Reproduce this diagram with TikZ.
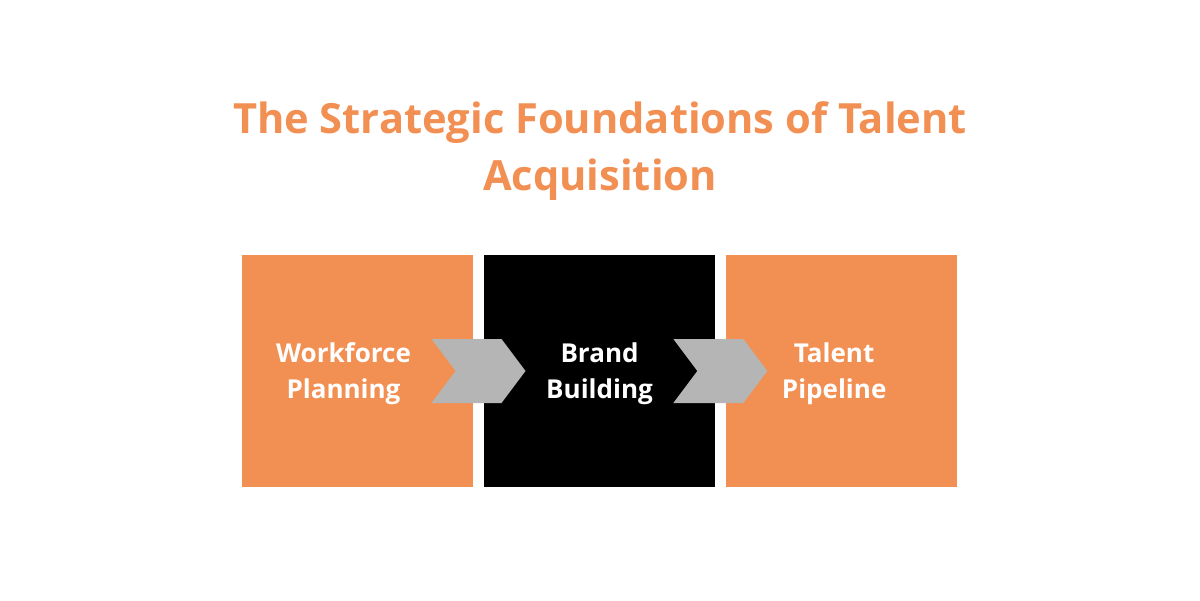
\documentclass[tikz,border=0pt]{standalone}
\usepackage{fontspec}
\setmainfont{Open Sans}
\usepackage{tikz}
\usetikzlibrary{positioning,calc}

\definecolor{brandorange}{HTML}{F28F52}
\definecolor{chevgray}{HTML}{B5B5B5}

\tikzset{
  stepbox/.style={minimum width=5.775cm, minimum height=5.8cm, inner sep=0pt, draw=none},
  steplabel/.style={text=white, font=\bfseries\fontsize{18.5}{25.6}\selectfont, align=center},
  chevron/.style={fill=chevgray, draw=none}
}

\begin{document}
\begin{tikzpicture}[x=0.025cm, y=-0.025cm]
\useasboundingbox[fill=white] (0,0) rectangle (1200,600);

% title
\node[text=brandorange, font=\bfseries\fontsize{29.6}{40.5}\selectfont, align=center] (title) at (600,151)
  {The Strategic Foundations of Talent\\Acquisition};

% the three steps
\node[stepbox, fill=brandorange] (wp) at (357.5,371) {};
\node[stepbox, fill=black, right=0.26cm of wp] (bb) {};
\node[stepbox, fill=brandorange, right=0.25cm of bb] (tp) {};

% chevrons between the boxes
\coordinate (c1) at ($(wp.east)!0.5!(bb.west)$);
\coordinate (c2) at ($(bb.east)!0.5!(tp.west)$);
\foreach \c in {c1,c2}
  \fill[chevron] (\c) ++(-47,-32) -- ++(70,0) -- ++(24,32) -- ++(-24,32) -- ++(-70,0) -- ++(24,-32) -- cycle;

% labels
\node[steplabel] (wpl) at ($(wp.center)+(-14,3)$) {Workforce\\Planning};
\node[steplabel] (bbl) at ($(bb.center)+(0,3)$) {Brand\\Building};
\node[steplabel] (tpl) at ($(tp.center)+(-7,3)$) {Talent\\Pipeline};
\end{tikzpicture}
\end{document}
